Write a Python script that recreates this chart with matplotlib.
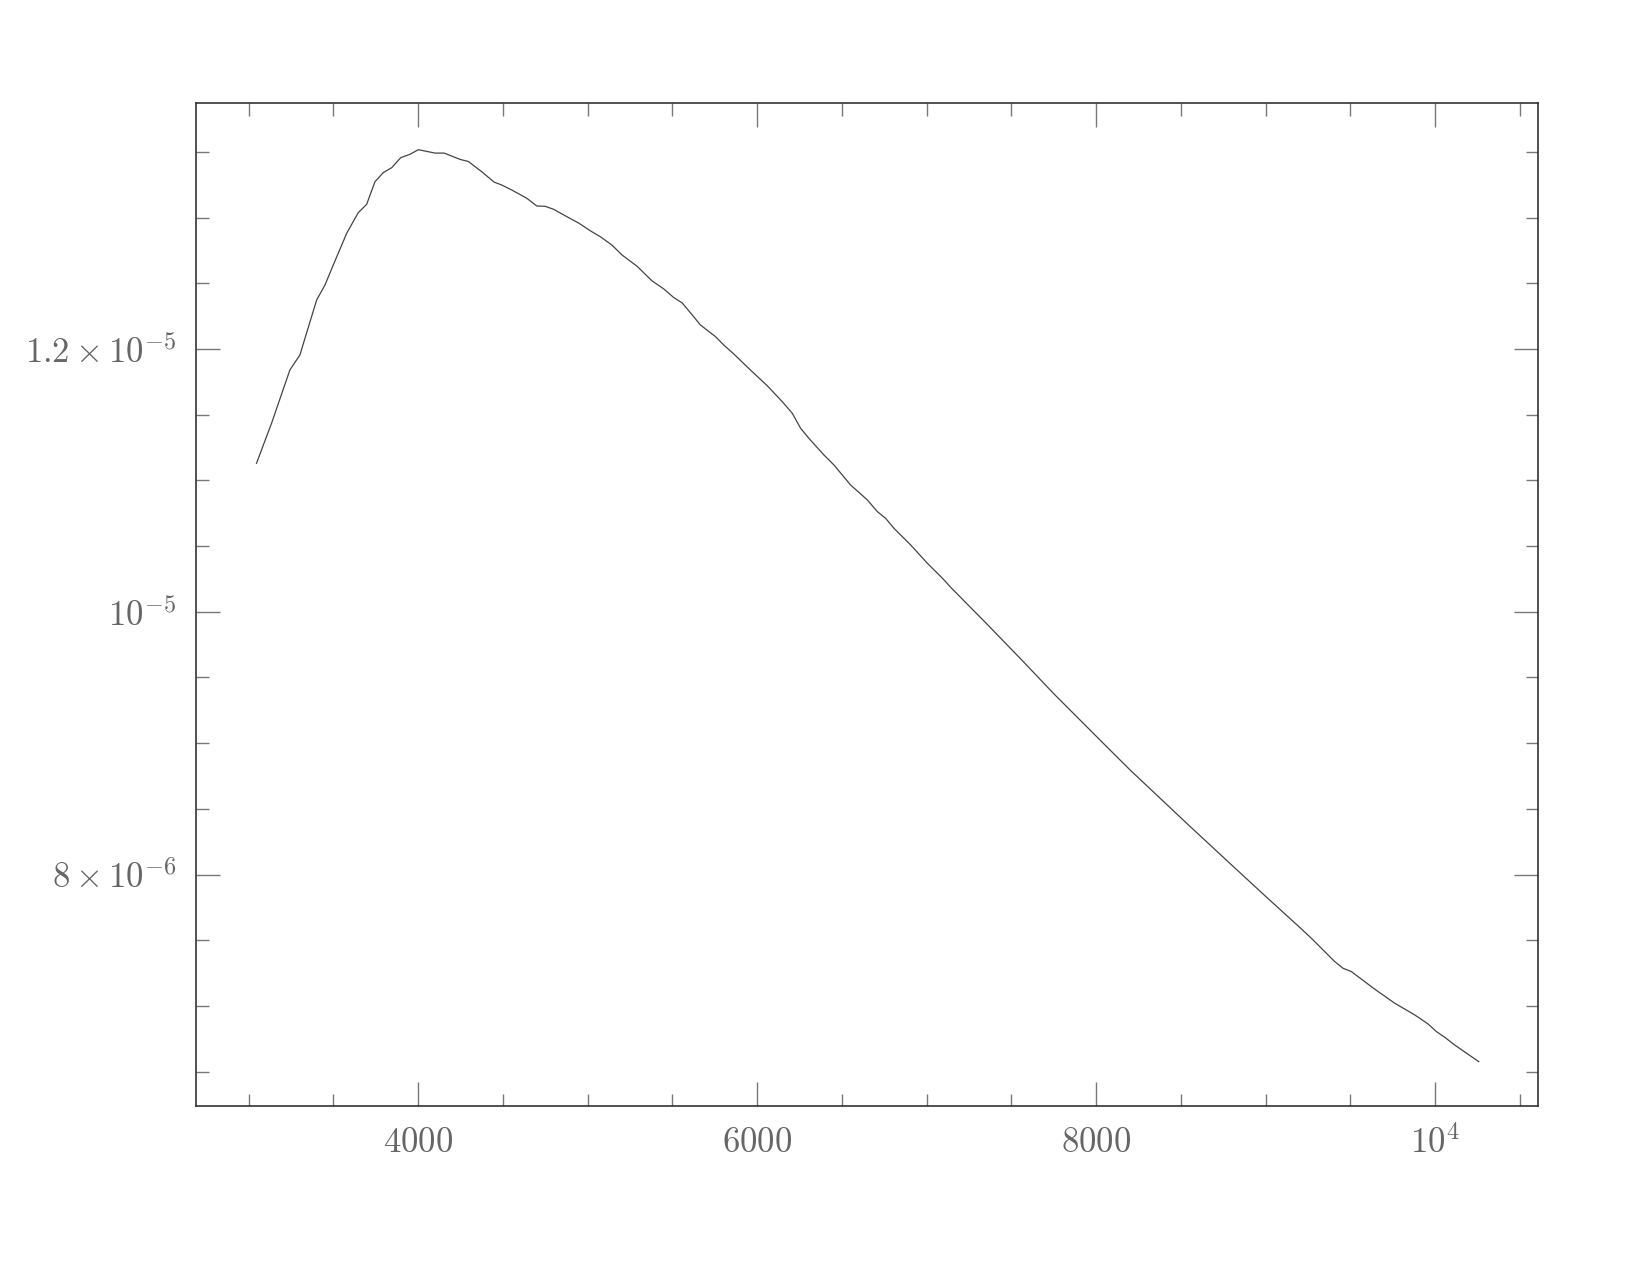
import matplotlib
matplotlib.use("Agg")
import matplotlib.pyplot as plt
from matplotlib.ticker import MultipleLocator, FixedLocator, FixedFormatter

# spectrum (wavelength, flux)
wave = [3047, 3136, 3244, 3303, 3402, 3451, 3500, 3579, 3647, 3697, 3746, 3795,
        3845, 3898, 3953, 4002, 4100, 4154, 4248, 4297, 4376, 4449, 4494, 4553,
        4642, 4701, 4750, 4800, 4878, 4947, 5016, 5075, 5144, 5204, 5292, 5381,
        5449, 5508, 5558, 5607, 5666, 5755, 5804, 5863, 5961, 6060, 6149, 6208,
        6257, 6306, 6395, 6454, 6552, 6651, 6710, 6759, 6808, 6907, 7005, 7094,
        7145, 7350, 7552, 7748, 8043, 8201, 8545, 8810, 9000, 9200, 9270, 9408, 9457,
        9506, 9644, 9762, 9880, 9959, 10008, 10057, 10116, 10258]
flux = [1.113e-5, 1.1435e-5, 1.184e-5, 1.1954e-5, 1.2373e-5, 1.2487e-5, 1.2639e-5,
        1.2880e-5, 1.3037e-5, 1.3101e-5, 1.3273e-5, 1.3342e-5, 1.3380e-5, 1.3456e-5,
        1.3482e-5, 1.3517e-5, 1.3491e-5, 1.3491e-5, 1.3443e-5, 1.3427e-5, 1.3349e-5,
        1.3270e-5, 1.3248e-5, 1.3210e-5, 1.3147e-5, 1.3088e-5, 1.3086e-5, 1.3063e-5,
        1.3007e-5, 1.2959e-5, 1.2900e-5, 1.2855e-5, 1.2791e-5, 1.2715e-5, 1.2630e-5,
        1.2518e-5, 1.2458e-5, 1.2392e-5, 1.2351e-5, 1.2276e-5, 1.2183e-5, 1.2094e-5,
        1.2030e-5, 1.1962e-5, 1.1840e-5, 1.1721e-5, 1.1599e-5, 1.1511e-5, 1.1397e-5,
        1.1320e-5, 1.1193e-5, 1.1117e-5, 1.0965e-5, 1.0851e-5, 1.0762e-5, 1.0711e-5,
        1.0635e-5, 1.0508e-5, 1.0369e-5, 1.0255e-5, 1.0183e-5, 9.915e-6, 9.646e-6, 9.380e-6,
        8.999e-6, 8.796e-6, 8.378e-6, 8.061e-6, 7.835e-6, 7.600e-6, 7.516e-6,
        7.338e-6, 7.287e-6, 7.262e-6, 7.128e-6, 7.021e-6, 6.932e-6, 6.863e-6,
        6.805e-6, 6.762e-6, 6.703e-6, 6.576e-6]

xticks = [4000, 6000, 8000, 10000]
xlabels = [r"$4000$", r"$6000$", r"$8000$", r"$10^{4}$"]
yticks = [8e-6, 1e-5, 1.2e-5]
ylabels = [r"$8\times10^{-6}$", r"$10^{-5}$", r"$1.2\times10^{-5}$"]

plt.rcParams["mathtext.fontset"] = "cm"
plt.rcParams["font.family"] = "DejaVu Serif"

fig = plt.figure(figsize=(16.51, 12.75), dpi=100)
ax = fig.add_axes([0.1187, 0.1326, 0.8129, 0.7866])

ax.plot(wave, flux, color="#444444", lw=0.9)

ax.set_xlim(2690, 10608)
ax.set_ylim(6.239e-6, 1.3872e-5)

ax.xaxis.set_major_locator(FixedLocator(xticks))
ax.xaxis.set_major_formatter(FixedFormatter(xlabels))
ax.xaxis.set_minor_locator(MultipleLocator(500))
ax.yaxis.set_major_locator(FixedLocator(yticks))
ax.yaxis.set_major_formatter(FixedFormatter(ylabels))
ax.yaxis.set_minor_locator(MultipleLocator(5e-7))

ax.tick_params(which="both", direction="in", top=True, right=True,
               color="#777777", labelcolor="#666666", labelsize=25)
ax.tick_params(which="major", length=17, width=1.0, pad=14)
ax.tick_params(which="minor", length=9, width=1.0)

for s in ax.spines.values():
    s.set_color("#333333")
    s.set_linewidth(1.2)

fig.savefig("out.png", dpi=100, facecolor="white")
